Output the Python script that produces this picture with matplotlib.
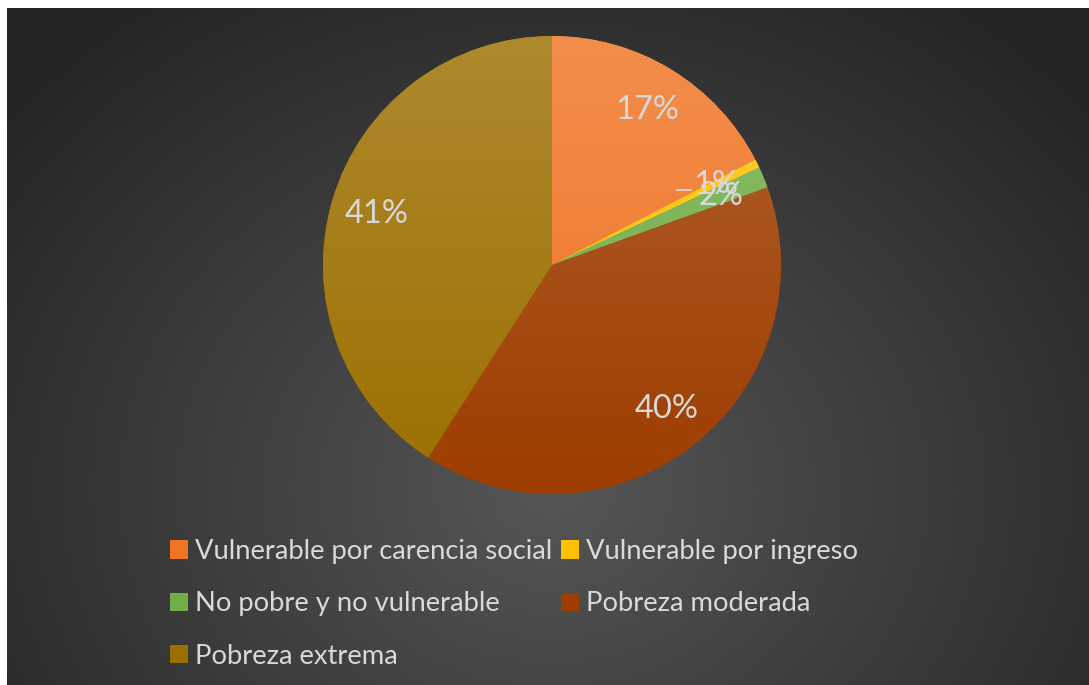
import numpy as np
import matplotlib
matplotlib.use("Agg")
import matplotlib.pyplot as plt
from matplotlib.colors import to_rgb
from matplotlib.patches import Patch

# ---- data ----
categories = ["Vulnerable por carencia social", "Vulnerable por ingreso",
              "No pobre y no vulnerable", "Pobreza moderada", "Pobreza extrema"]
values = [17.4, 0.6, 1.5, 39.6, 40.9]
colors = ["#F07424", "#FFC000", "#70AD47", "#9E3D00", "#9C7000"]

W, H = 1089, 685
fig = plt.figure(figsize=(W / 100, H / 100), dpi=100)
fig.patch.set_facecolor("white")

FONT = ["Lato", "DejaVu Sans"]
TXT = "#D9D9D9"

# ---- background with radial gradient ----
bg = fig.add_axes([7 / W, 0, 1 - 7 / W, 1 - 8 / H])
bg.set_axis_off()
yy, xx = np.mgrid[0:H - 8, 0:W - 7]
cx, cy = 545, 480
r = np.hypot((xx - cx) / 1.0, (yy - cy) / 0.85)
t = np.clip(r / 700, 0, 1)
c0 = np.array(to_rgb("#565656"))
c1 = np.array(to_rgb("#252525"))
img = c0[None, None, :] * (1 - t[..., None]) + c1[None, None, :] * t[..., None]
bg.imshow(img, aspect="auto", extent=(0, 1, 0, 1), origin="upper")
bg.set_xlim(0, 1)
bg.set_ylim(0, 1)

# ---- pie ----
cxp, cyp, R = 552, 265, 229
ax = fig.add_axes([(cxp - R) / W, 1 - (cyp + R) / H, 2 * R / W, 2 * R / H])
ax.set_axis_off()
wedges, texts, autotexts = ax.pie(
    values, colors=colors, startangle=90, counterclock=False, radius=1,
    autopct=lambda p: f"{int(p + 0.5)}%", pctdistance=0.8,
    wedgeprops=dict(linewidth=0),
    textprops=dict(color=TXT, fontsize=23.5, family=FONT))
ax.set_xlim(-1, 1)
ax.set_ylim(-1, 1)
ax.set_aspect("equal")

s = np.linspace(0, 1, 256)[:, None, None]  # 0 at top, 1 at bottom
for w, col in zip(wedges, colors):
    base = np.array(to_rgb(col))
    light = base + (1 - base) * 0.18
    rgb = light[None, None, :] * (1 - s) + base[None, None, :] * s
    rgb = np.repeat(rgb, 2, axis=1)
    im = ax.imshow(rgb, extent=(-1, 1, -1, 1), origin="upper",
                   aspect="auto", zorder=w.get_zorder() + 0.1)
    im.set_clip_path(w)
for at in autotexts:
    at.set_zorder(10)
    px, py = at.get_position()
    at.set_position((px, py - 0.005))

# leader dash for the tiny slice label
at = autotexts[1]
x, y = at.get_position()
ax.plot([x - 0.17, x - 0.11], [y - 0.02, y - 0.02], color=TXT, lw=1.3, zorder=10)

# ---- legend (row-wise order like the original) ----
handles = [Patch(facecolor=c, edgecolor="none") for c in colors]
order = [0, 2, 4, 1, 3]
leg = fig.legend([handles[i] for i in order], [categories[i] for i in order],
                 ncol=2, loc="upper left", bbox_to_anchor=(170 / W, 1 - 539 / H),
                 frameon=False, prop=dict(family=FONT, size=19.7),
                 labelcolor=TXT, handlelength=0.65, handleheight=0.65,
                 handletextpad=0.25, columnspacing=0.35, labelspacing=1.0,
                 borderaxespad=0, borderpad=0)

fig.savefig("out.png", dpi=100)
